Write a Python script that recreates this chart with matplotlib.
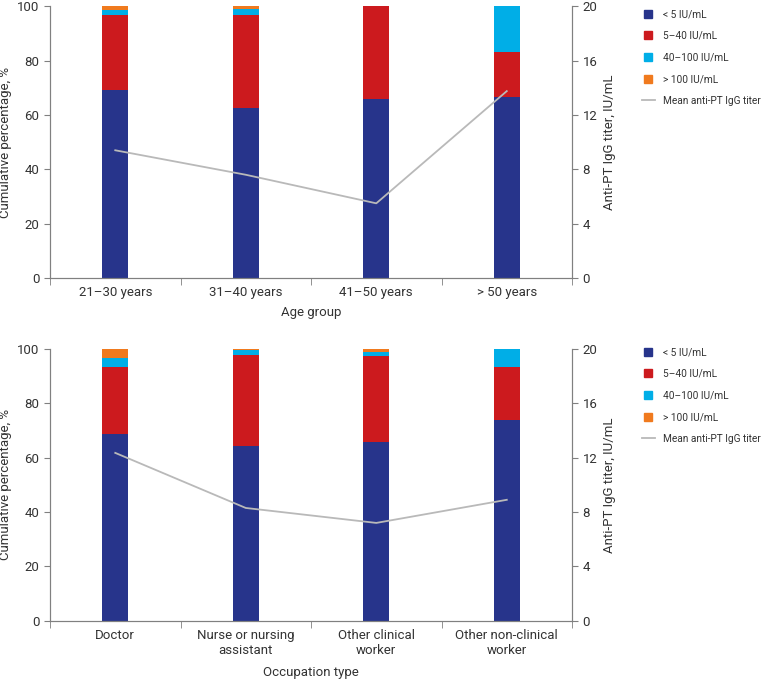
import matplotlib
matplotlib.use("Agg")
import matplotlib.pyplot as plt
import numpy as np
from matplotlib.lines import Line2D

plt.rcParams['font.family'] = ['Roboto', 'DejaVu Sans']

# ---- data ----
age_groups = ["21\u201330 years", "31\u201340 years", "41\u201350 years", "> 50 years"]
age_lt5 = [69.0, 62.7, 65.8, 66.5]
age_5_40 = [27.6, 34.0, 34.2, 16.8]
age_40_100 = [2.0, 2.1, 0.0, 16.7]
age_gt100 = [1.4, 1.2, 0.0, 0.0]
age_mean = [9.4, 7.6, 5.5, 13.75]

occ_groups = ["Doctor", "Nurse or nursing\nassistant", "Other clinical\nworker", "Other non-clinical\nworker"]
occ_lt5 = [68.6, 64.2, 65.7, 73.9]
occ_5_40 = [24.6, 33.5, 31.5, 19.4]
occ_40_100 = [3.5, 1.8, 1.8, 6.7]
occ_gt100 = [3.3, 0.5, 1.0, 0.0]
occ_mean = [12.35, 8.3, 7.2, 8.9]

labels = ["< 5 IU/mL", "5\u201340 IU/mL", "40\u2013100 IU/mL", "> 100 IU/mL"]
colors = ["#27348b", "#cc1a1e", "#00aee7", "#f07a1e"]
line_color = "#b9b9b9"
spine_color = "#808080"
text_color = "#333333"


def draw_panel(ax, cats, stacks, mean, xlabel, labelpad):
    x = np.arange(len(cats))
    bottom = np.zeros(len(cats))
    for vals, c in zip(stacks, colors):
        ax.bar(x, vals, width=0.2, bottom=bottom, color=c, linewidth=0)
        bottom += np.array(vals)
    ax.set_xlim(-0.5, len(cats) - 0.5)
    ax.set_ylim(0, 100)
    ax.set_yticks(np.arange(0, 101, 20))
    ax.set_xticks(x)
    ax.set_xticklabels(cats, fontsize=9.5, color=text_color)
    ax.set_xticks(np.arange(-0.5, len(cats)), minor=True)
    ax.tick_params(axis='x', which='major', length=0, pad=6)
    ax.tick_params(axis='x', which='minor', length=5, color=spine_color, direction='out')
    ax.tick_params(axis='y', length=4, color=spine_color, labelsize=9.5, labelcolor=text_color)
    ax.set_ylabel("Cumulative percentage, %", fontsize=9.5, color=text_color)
    ax.set_xlabel(xlabel, fontsize=9.5, color=text_color, labelpad=labelpad)
    ax.spines["top"].set_visible(False)
    for s in ["left", "bottom", "right"]:
        ax.spines[s].set_color(spine_color)

    ax2 = ax.twinx()
    ax2.plot(x, mean, color=line_color, linewidth=1.3)
    ax2.set_ylim(0, 20)
    ax2.set_yticks(np.arange(0, 21, 4))
    ax2.tick_params(axis='y', length=4, color=spine_color, labelsize=9.5, labelcolor=text_color)
    ax2.set_ylabel("Anti-PT IgG titer, IU/mL", fontsize=9.5, color=text_color)
    ax2.spines["top"].set_visible(False)
    for s in ["left", "bottom", "right"]:
        ax2.spines[s].set_color(spine_color)
    return ax2


fig = plt.figure(figsize=(7.67, 6.8), dpi=100)
ax_top = fig.add_axes([0.0652, 0.591, 0.6806, 0.400])
ax_bot = fig.add_axes([0.0652, 0.087, 0.6806, 0.400])

draw_panel(ax_top, age_groups, [age_lt5, age_5_40, age_40_100, age_gt100], age_mean, "Age group", 5)
draw_panel(ax_bot, occ_groups, [occ_lt5, occ_5_40, occ_40_100, occ_gt100], occ_mean, "Occupation type", 6)

handles = [Line2D([0], [0], marker='s', linestyle='none', markersize=5.5,
                  markerfacecolor=c, markeredgecolor=c, label=l) for c, l in zip(colors, labels)]
handles.append(Line2D([0], [0], color=line_color, linewidth=1.3, label="Mean anti-PT IgG titer"))

for ypos in [1.0, 0.503]:
    fig.legend(handles=handles, loc="upper left", bbox_to_anchor=(0.825, ypos),
               frameon=False, fontsize=7.3, handlelength=1.3, handletextpad=0.8,
               labelspacing=1.15, labelcolor=text_color)

fig.savefig("out.png", dpi=100)
